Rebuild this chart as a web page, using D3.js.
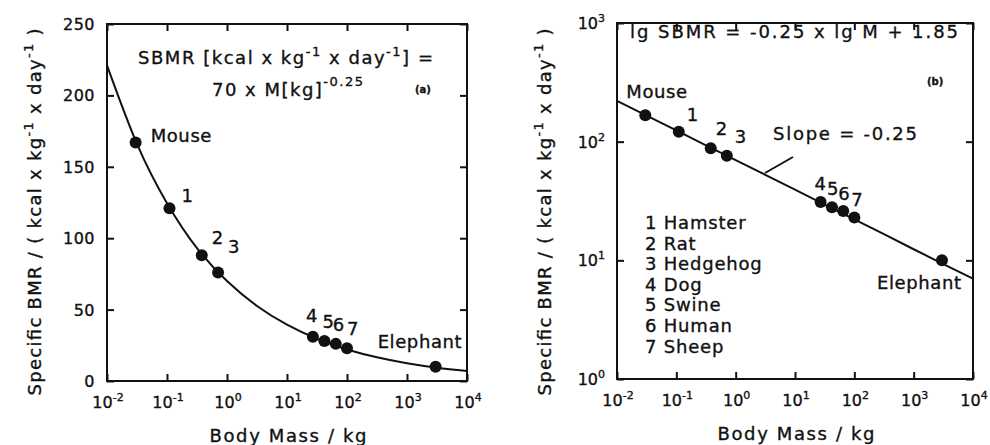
<!DOCTYPE html>
<html>
<head>
<meta charset="utf-8">
<script src="https://cdn.jsdelivr.net/npm/d3@7"></script>
<style>
  body { margin: 0; background: #fff; }
  text { font-family: "DejaVu Sans", sans-serif; fill: #111; stroke: #111; stroke-width: 0.35px; white-space: pre; }
</style>
</head>
<body>
<svg id="chart" width="990" height="445"></svg>
<script>
// Values
var pointLabels = ["Mouse", "1", "2", "3", "4", "5", "6", "7", "Elephant"]
var legendNames = ["Hamster", "Rat", "Hedgehog", "Dog", "Swine", "Human", "Sheep"]
var bodyMass = [0.03, 0.11, 0.38, 0.71, 27, 42, 65, 100, 3000]
var sbmr = [167, 121, 88, 76, 31, 28, 26, 23, 10]

// the fitted curve, read at half decades
var fitMass = [0.01, 0.0316, 0.1, 0.316, 1, 3.16, 10, 31.6, 100, 316, 1000, 3162, 10000]
var fitSbmr = [221, 166, 124.5, 93, 70, 52.5, 39.4, 29.5, 22.1, 16.6, 12.4, 9.3, 7.0]

var massTicks = [1e-2, 1e-1, 1e0, 1e1, 1e2, 1e3, 1e4]
var linearTicks = [0, 50, 100, 150, 200, 250]
var logTicks = [1, 10, 100, 1000]

var points = bodyMass.map(function(m, i) { return { m: m, v: sbmr[i], label: pointLabels[i] } })
var fit = fitMass.map(function(m, i) { return { m: m, v: fitSbmr[i] } })

var svg = d3.select("#chart")

// little helper: text with superscripts, parts = [[string, isSup], ...]
function richText(parent, parts, size, supSize, raise) {
  var t = parent.append("text").attr("font-size", size)
  var cur = 0
  parts.forEach(function(p) {
    var target = p[1] ? -raise : 0
    var ts = t.append("tspan").text(p[0])
    if (target !== cur) ts.attr("dy", target - cur)
    if (p[1]) ts.attr("font-size", supSize)
    cur = target
  })
  return t
}

function drawPanel(box, yScale, isLog, offsets) {
  var g = svg.append("g")
  var x = d3.scaleLog().domain([1e-2, 1e4]).range([box.x0, box.x1])
  var y = yScale.range([box.y1, box.y0])
  var yTicks = isLog ? logTicks : linearTicks

  // inward ticks on all four sides
  g.append("g").attr("transform", "translate(0," + box.y1 + ")")
    .call(d3.axisBottom(x).tickValues(massTicks).tickSize(-7).tickFormat(""))
  g.append("g").attr("transform", "translate(0," + box.y0 + ")")
    .call(d3.axisTop(x).tickValues(massTicks).tickSize(-7).tickFormat(""))
  g.append("g").attr("transform", "translate(" + box.x0 + ",0)")
    .call(d3.axisLeft(y).tickValues(yTicks).tickSize(-7).tickFormat(""))
  g.append("g").attr("transform", "translate(" + box.x1 + ",0)")
    .call(d3.axisRight(y).tickValues(yTicks).tickSize(-7).tickFormat(""))
  g.selectAll(".domain").remove()
  g.selectAll(".tick line").attr("stroke", "#111").attr("stroke-width", 2)

  g.append("rect")
    .attr("x", box.x0).attr("y", box.y0)
    .attr("width", box.x1 - box.x0).attr("height", box.y1 - box.y0)
    .attr("fill", "none").attr("stroke", "#111").attr("stroke-width", 2)

  // x tick labels 10^n
  massTicks.forEach(function(t) {
    var e = Math.round(Math.log10(t))
    richText(g, [["10", false], [String(e), true]], 16, 11, 7)
      .attr("x", x(t) + 1).attr("y", box.y1 + 27)
      .attr("text-anchor", "middle")
  })

  // y tick labels
  yTicks.forEach(function(t) {
    var lab
    if (isLog) {
      lab = richText(g, [["10", false], [String(Math.round(Math.log10(t))), true]], 16, 11, 7)
    } else {
      lab = g.append("text").attr("font-size", 16).attr("letter-spacing", 0.5).text(t)
    }
    lab.attr("x", box.x0 - 12).attr("y", y(t) + 6).attr("text-anchor", "end")
  })

  // axis titles
  g.append("text")
    .attr("x", (box.x0 + box.x1) / 2 + 1).attr("y", box.y1 + 61)
    .attr("text-anchor", "middle").attr("font-size", 18)
    .attr("textLength", 157)
    .text("Body Mass / kg")

  richText(g, [["Specific BMR / ( kcal x kg", false], ["-1", true], [" x day", false], ["-1", true], [" )", false]], 18, 13, 8)
    .attr("transform", "translate(" + (box.x0 - 66) + ",212) rotate(-90)")
    .attr("text-anchor", "middle")
    .attr("textLength", 367)

  // the curve
  var line = d3.line()
    .x(function(d) { return x(d.m) })
    .y(function(d) { return y(d.v) })
    .curve(isLog ? d3.curveLinear : d3.curveNatural)

  g.append("path")
    .datum(fit)
    .attr("d", line)
    .attr("fill", "none")
    .attr("stroke", "#111")
    .attr("stroke-width", 2)

  g.selectAll(".dot")
    .data(points)
    .enter().append("circle")
    .attr("class", "dot")
    .attr("cx", function(d) { return x(d.m) })
    .attr("cy", function(d) { return y(d.v) })
    .attr("r", 6)
    .attr("fill", "#111")

  g.selectAll(".point-label")
    .data(points)
    .enter().append("text")
    .attr("class", "point-label")
    .attr("x", function(d, i) { return x(d.m) + offsets[i][0] })
    .attr("y", function(d, i) { return y(d.v) + offsets[i][1] })
    .attr("font-size", 18)
    .attr("letter-spacing", 0.6)
    .text(function(d) { return d.label })

  return { g: g, x: x, y: y }
}

// Panel (a), linear y
var left = drawPanel({ x0: 107, x1: 467, y0: 24, y1: 381 },
  d3.scaleLinear().domain([0, 250]), false,
  [[15, -1], [12, -6], [10, -11], [10, -19], [-7, -15], [-2, -13], [-3, -13], [0, -13], [-58, -19]])

richText(left.g, [["SBMR [kcal x kg", false], ["-1", true], [" x day", false], ["-1", true], ["] =", false]], 18, 13, 8)
  .attr("x", 138).attr("y", 64).attr("textLength", 295)
richText(left.g, [["70 x M[kg]", false], ["-0.25", true]], 18, 13, 10)
  .attr("x", 212).attr("y", 96).attr("textLength", 151)
left.g.append("text").attr("x", 415).attr("y", 93)
  .attr("font-size", 10).attr("font-weight", "bold").text("(a)")

// Panel (b), log y
var right = drawPanel({ x0: 617, x1: 973, y0: 23, y1: 379 },
  d3.scaleLog().domain([1, 1000]), true,
  [[-19, -17], [8, -11], [5, -13], [8, -13], [-6, -12], [-5, -12], [-5, -11], [-3, -11], [-65, 29]])

right.g.append("text").attr("x", 630).attr("y", 38)
  .attr("font-size", 18).attr("textLength", 328)
  .text("lg SBMR = -0.25 x lg M + 1.85")
right.g.append("text").attr("x", 927).attr("y", 85)
  .attr("font-size", 10).attr("font-weight", "bold").text("(b)")

right.g.append("text").attr("x", 773).attr("y", 140)
  .attr("font-size", 18).attr("textLength", 144)
  .text("Slope = -0.25")
right.g.append("line")
  .attr("x1", 765).attr("y1", 173).attr("x2", 793).attr("y2", 157)
  .attr("stroke", "#111").attr("stroke-width", 2)

// legend for numbered animals
right.g.selectAll(".legend")
  .data(legendNames)
  .enter().append("text")
  .attr("class", "legend")
  .attr("x", 645)
  .attr("y", function(d, i) { return 229 + i * 20.6 })
  .attr("font-size", 18)
  .attr("letter-spacing", 0.8)
  .text(function(d, i) { return (i + 1) + " " + d })
</script>
</body>
</html>
